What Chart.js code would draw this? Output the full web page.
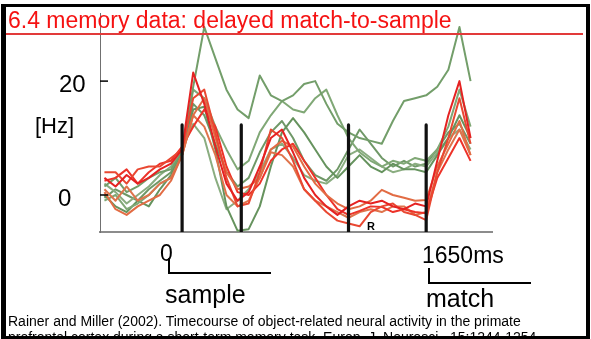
<!DOCTYPE html>
<html>
<head>
<meta charset="utf-8">
<script src="https://cdn.jsdelivr.net/npm/chart.js@4"></script>
<style>
    html, body { margin: 0; padding: 0; background: #fff; }
    #wrap { position: relative; width: 591px; height: 339px; overflow: hidden; }
    #chart { position: absolute; left: 0; top: 0; }
    .t { position: absolute; white-space: nowrap; line-height: 1; font-family: "Liberation Sans", Arial, sans-serif; color: #000; }
    .bar { position: absolute; background: #000; }
    #frame { position: absolute; left: 1px; top: 4px; width: 589px; height: 335px; box-sizing: border-box;
             border-left: 5px solid #000; border-top: 3px solid #000; border-right: 4px solid #000; border-bottom: 3px solid #000; }
</style>
</head>
<body>
<div id="wrap">
    <canvas id="chart" width="591" height="339"></canvas>

    <div class="t" style="left:8px; top:9px; font-size:23px; color:#f51212;">6.4 memory data: delayed match-to-sample</div>
    <div style="position:absolute; left:5px; top:33px; width:578px; height:2px; background:#e23a3a;"></div>

    <div class="t" style="left:59px; top:72px; font-size:24px;">20</div>
    <div class="t" style="left:35px; top:115px; font-size:22px;">[Hz]</div>
    <div class="t" style="left:58px; top:186px; font-size:24px;">0</div>

    <div class="t" style="left:367px; top:221px; font-size:11px; font-weight:bold;">R</div>

    <div class="t" style="left:160px; top:242px; font-size:23px;">0</div>
    <div class="bar" style="left:168px; top:258px; width:2px; height:16px;"></div>
    <div class="bar" style="left:168px; top:272px; width:103px; height:2px;"></div>
    <div class="t" style="left:165px; top:282px; font-size:25px;">sample</div>

    <div class="t" style="left:422px; top:244px; font-size:23px;">1650ms</div>
    <div class="bar" style="left:428px; top:268px; width:2px; height:16px;"></div>
    <div class="bar" style="left:428px; top:282px; width:103px; height:2px;"></div>
    <div class="t" style="left:426px; top:286px; font-size:25px;">match</div>

    <div class="t" style="left:8px; top:314px; font-size:14px;">Rainer and Miller (2002). Timecourse of object-related neural activity in the primate</div>
    <div class="t" style="left:8px; top:330px; font-size:14px;">prefrontal cortex during a short-term memory task. Europ. J. Neurosci., 15:1244-1254.</div>

    <div id="frame"></div>
</div>

<script>
// time bins (ms from sample onset)
const times = [-525, -450, -375, -300, -225, -150, -75, 0, 75, 150, 225, 300, 375, 450, 525, 600, 675,
               750, 825, 900, 975, 1050, 1125, 1200, 1275, 1350, 1425, 1500, 1575, 1650, 1725, 1800, 1875, 1950];

// firing rate (Hz), object-selective cells
const green1 = [1.5, 3, 0.5, 1.5, 3, 4, 4.5, 7.5, 19, 29.5, 24, 18.5, 15, 13.5, 21, 17.5, 16.5, 17.5, 19.5, 20, 16, 12.5, 11, 10, 9.5, 9, 13, 16.5, 17, 17.5, 19, 22, 29.5, 20];
const green2 = [-1, 0, -2.5, -1.5, 0, 2, 3, 7, 18.5, 17, 12, 8, 4.5, 6, 11, 14, 16.5, 15, 14.5, 17, 18.5, 14, 10, 7.5, 6, 5, 6, 5.5, 6.5, 6, 8, 12, 18.5, 12];
const green3 = [0, -2, -3, -1, -2, 1, 3.5, 7, 15, 15.5, 8, -2, -6.3, -6, -2, 5, 11, 13.5, 11, 8, 5, 3, 5, 7, 5, 4, 5.5, 4.5, 4.5, 4, 7, 10, 14, 10];
const green4 = [2, 0.5, -1.5, 0, 1.5, 3.5, 5, 8, 12.5, 10, 3, -2.5, -1, 1, 4, 8, 9, 6.5, 3.5, 2.5, 2, 3.5, 7, 8, 6.5, 5, 4, 4.5, 5.5, 5, 7.5, 10, 11.5, 8];
const green5 = [-0.5, 1, 0, -1, 1, 2.5, 4, 7.5, 16, 14, 9, 4, 1.5, 3, 7.5, 11, 13, 10, 6, 3.5, 2.5, 4.5, 8, 11.5, 9, 6.5, 5, 6, 5, 5.5, 8, 11, 12.5, 9];

// firing rate (Hz), match-selective cells
const red1 = [3, 1.5, 3.5, 2, 3, 4.5, 5.5, 8, 21.5, 16, 8.5, 2, -1, 0.5, 5, 10, 11.5, 7.5, 3, 0, -2, -3.5, -2, -1, -1.5, -1, -2, -2.5, -1.5, -2, 6, 14, 20, 10];
const red2 = [4, 4, 2, 4.5, 5, 5, 6.5, 8, 17, 18.5, 11, 3, -2, -1.5, 4, 11.5, 10, 6, 1, -1, -3, -4.5, -5, -5.5, -3, -2, -1.5, -3, -3.5, -4.4, 4, 10, 17, 9];
const red3 = [0.5, -2.5, -3.5, -2, -1, 0, 2.5, 7, 14, 17, 10, 4, 1, 1.5, 3, 8, 9.5, 8.5, 5, 2, 0, -1.5, -2.5, -2, -1, 0.9, 0, -0.5, -1, -0.9, 5, 9, 13, 7];
const red4 = [2.5, 3, 4.5, 2, 4, 5.5, 6, 8.5, 12, 15, 12, 5, 0.5, 0, 2, 6, 8, 9, 6, 3, 0, -2.5, -3.5, -2.8, -2, -2.1, -3, -2.5, -3, -3.2, 3, 6.5, 10, 6];
const red5 = [1, -1, 1.5, -1, 0, 2, 3, 7, 14, 12, 7, 0, -2, -1, 3, 7.5, 7, 5, 1, -1, -2, -3, -4, -3, -2.5, -3, -2, -2, -3.5, -3, 4, 8, 11.5, 7];

// task events: sample on, sample off, delay marker, match on
const eventTimes = [0, 400, 1125, 1650];
const eventTop = 12.3;

const yTicks = [0, 20];
const xMin = -555, xMax = 2095;
const yMin = -6.5, yMax = 31.96;

const greenSeries = [green1, green2, green3, green4, green5];
const redSeries = [red1, red2, red3, red4, red5];
const greenColors = ['#739e6a', '#80a876', '#66935e', '#8aad80', '#6f9867'];
const redColors = ['#e52222', '#e94832', '#e26c44', '#ed3329', '#df744c'];

function toPoints(values) {
    return values.map((v, i) => ({ x: times[i], y: v }));
}

const datasets = [];
eventTimes.forEach(t => {
    datasets.push({
        data: [{ x: t, y: eventTop }, { x: t, y: yMin }],
        borderColor: '#111', borderWidth: 3.2
    });
});
redSeries.forEach((s, i) => {
    datasets.push({ data: toPoints(s), borderColor: redColors[i], borderWidth: 2 });
});
greenSeries.forEach((s, i) => {
    datasets.push({ data: toPoints(s), borderColor: greenColors[i], borderWidth: 2 });
});

// short ticks drawn inside the plot on the left axis
const innerTicks = {
    id: 'innerTicks',
    afterDraw(chart) {
        const ctx = chart.ctx;
        const y = chart.scales.y;
        const left = chart.chartArea.left;
        ctx.save();
        ctx.strokeStyle = '#000';
        ctx.lineWidth = 1.5;
        yTicks.forEach(v => {
            const py = y.getPixelForValue(v);
            ctx.beginPath();
            ctx.moveTo(left, py);
            ctx.lineTo(left + 8, py);
            ctx.stroke();
        });
        ctx.restore();
    }
};

new Chart(document.getElementById('chart'), {
    type: 'line',
    data: { datasets: datasets },
    options: {
        responsive: false,
        animation: false,
        devicePixelRatio: 1,
        layout: { padding: { top: 13, right: 99, left: 0, bottom: 0 } },
        elements: {
            point: { radius: 0 },
            line: { tension: 0, borderJoinStyle: 'round', borderCapStyle: 'butt' }
        },
        plugins: {
            legend: { display: false },
            tooltip: { enabled: false },
            title: { display: false }
        },
        scales: {
            x: {
                type: 'linear', min: xMin, max: xMax,
                ticks: { display: false },
                grid: { display: false, drawTicks: false },
                border: { color: '#8c8c8c', width: 2 },
                afterFit: s => { s.height = 107; }
            },
            y: {
                min: yMin, max: yMax,
                ticks: { display: false },
                grid: { display: false, drawTicks: false },
                border: { color: '#707070', width: 1 },
                afterFit: s => { s.width = 100; }
            }
        }
    },
    plugins: [innerTicks]
});
</script>
</body>
</html>
